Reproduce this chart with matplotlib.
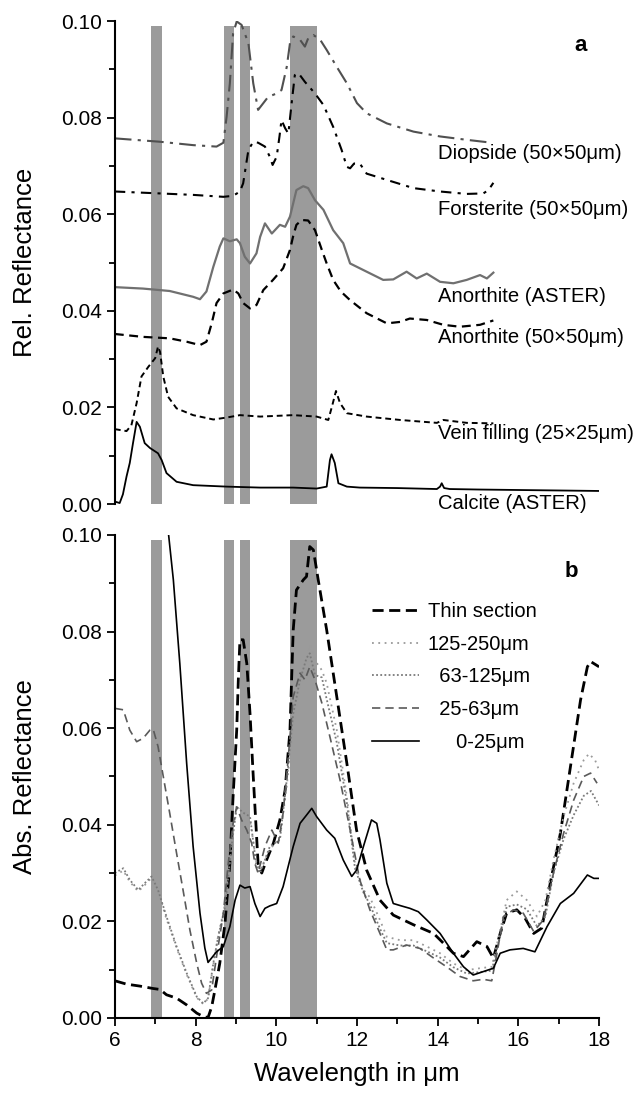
import matplotlib
matplotlib.use("Agg")
import matplotlib.pyplot as plt
from matplotlib.ticker import MultipleLocator, FormatStrFormatter

plt.rcParams['font.family'] = ['Liberation Sans', 'DejaVu Sans']

# ---- panel a: relative reflectance spectra ----
calcite_x = [6.0, 6.12, 6.2, 6.29, 6.37, 6.45, 6.54, 6.62, 6.74, 6.87, 7.07, 7.16, 7.28, 7.53, 7.94,
             8.77, 9.6, 10.42, 11.0, 11.25, 11.33, 11.37, 11.45, 11.54, 11.75, 12.07, 13.0, 13.98,
             14.06, 14.1, 14.16, 14.3, 15.0, 16.0, 17.0, 18.0]
calcite_y = [0.0005, 0.0002, 0.002, 0.0057, 0.0085, 0.0126, 0.017, 0.016, 0.0126, 0.0116, 0.0105,
             0.0091, 0.0064, 0.0046, 0.0039, 0.0036, 0.0034, 0.0034, 0.0032, 0.0036, 0.0091, 0.0103,
             0.0085, 0.0043, 0.0036, 0.0034, 0.0033, 0.0031, 0.0036, 0.0043, 0.0033, 0.0031, 0.003,
             0.0029, 0.0028, 0.0027]

vein_x = [6.0, 6.29, 6.41, 6.54, 6.66, 6.83, 7.0, 7.07, 7.12, 7.2, 7.32, 7.53, 7.94, 8.44, 8.77, 9.1,
          9.6, 10.42, 11.0, 11.29, 11.4, 11.48, 11.58, 11.75, 12.24, 13.07, 13.98, 14.14, 14.72, 15.38]
vein_y = [0.0155, 0.0151, 0.0163, 0.0209, 0.0264, 0.0284, 0.0302, 0.0326, 0.0315, 0.0264, 0.0222,
          0.0198, 0.0184, 0.0175, 0.0179, 0.0184, 0.0181, 0.0184, 0.0181, 0.0174, 0.0208, 0.0234,
          0.0209, 0.0188, 0.0181, 0.0174, 0.0168, 0.0174, 0.0168, 0.0167]

anor50_x = [6.0, 6.7, 7.36, 7.78, 8.11, 8.27, 8.4, 8.52, 8.69, 8.93, 9.06, 9.18, 9.35, 9.51, 9.68,
            9.92, 10.17, 10.34, 10.42, 10.5, 10.63, 10.79, 10.96, 11.13, 11.25, 11.41, 11.6, 11.83,
            12.24, 12.74, 13.07, 13.31, 13.73, 14.14, 14.55, 15.05, 15.38]
anor50_y = [0.0352, 0.0346, 0.0343, 0.0336, 0.0329, 0.0336, 0.0374, 0.0416, 0.0436, 0.0444, 0.0436,
            0.0416, 0.0405, 0.0412, 0.0443, 0.0464, 0.0488, 0.0526, 0.0555, 0.0578, 0.0588, 0.0587,
            0.0567, 0.0526, 0.0498, 0.0464, 0.044, 0.0422, 0.0395, 0.0374, 0.0377, 0.0384, 0.0381,
            0.0371, 0.0367, 0.0371, 0.038]

anorA_x = [6.0, 6.7, 7.36, 7.94, 8.11, 8.27, 8.44, 8.6, 8.69, 8.85, 9.02, 9.1, 9.22, 9.35, 9.51,
           9.6, 9.72, 9.89, 10.09, 10.22, 10.34, 10.5, 10.67, 10.79, 10.96, 11.17, 11.41, 11.66,
           11.83, 12.24, 12.65, 12.9, 13.23, 13.48, 13.73, 14.06, 14.39, 14.72, 15.05, 15.22, 15.38]
anorA_y = [0.0449, 0.0446, 0.0441, 0.0429, 0.0424, 0.044, 0.0491, 0.0533, 0.055, 0.0544, 0.0548,
           0.054, 0.0512, 0.0498, 0.0519, 0.0553, 0.0581, 0.056, 0.0578, 0.0574, 0.0595, 0.065,
           0.0658, 0.0654, 0.0629, 0.0609, 0.0567, 0.054, 0.0498, 0.0481, 0.0464, 0.0465, 0.0481,
           0.0467, 0.0477, 0.046, 0.0457, 0.0464, 0.0474, 0.0467, 0.0479]

forst_x = [6.0, 7.12, 7.94, 8.69, 8.93, 9.1, 9.18, 9.31, 9.43, 9.55, 9.72, 9.84, 9.91, 10.01, 10.08,
           10.13, 10.22, 10.3, 10.38, 10.46, 10.55, 10.71, 10.96, 11.17, 11.41, 11.62, 11.75, 11.83,
           11.93, 12.07, 12.24, 12.74, 13.4, 14.06, 14.72, 15.13, 15.26, 15.38]
forst_y = [0.0647, 0.0643, 0.064, 0.0636, 0.0638, 0.0647, 0.0664, 0.0733, 0.075, 0.0748, 0.074,
           0.0719, 0.0702, 0.0719, 0.0761, 0.0795, 0.0778, 0.0767, 0.0829, 0.0888, 0.0892, 0.0874,
           0.085, 0.0826, 0.0781, 0.0733, 0.0698, 0.0695, 0.0705, 0.0705, 0.0684, 0.0671, 0.0654,
           0.0647, 0.0642, 0.0643, 0.065, 0.0665]

diop_x = [6.0, 7.12, 7.94, 8.52, 8.69, 8.77, 8.85, 8.93, 9.02, 9.14, 9.31, 9.43, 9.55, 9.68, 9.8,
          10.01, 10.13, 10.26, 10.34, 10.42, 10.59, 10.71, 10.79, 10.92, 11.09, 11.25, 11.5, 11.75,
          12.0, 12.24, 12.74, 13.4, 14.06, 14.72, 15.34]
diop_y = [0.0757, 0.075, 0.0743, 0.074, 0.0748, 0.0802, 0.0871, 0.0974, 0.0999, 0.0992, 0.0954,
          0.0871, 0.0816, 0.083, 0.0843, 0.085, 0.0857, 0.0905, 0.0954, 0.0968, 0.0961, 0.0947,
          0.0964, 0.0971, 0.0961, 0.094, 0.0905, 0.0871, 0.083, 0.0809, 0.0788, 0.0771, 0.0761,
          0.0754, 0.0748]

labels_a = ["Diopside (50×50μm)", "Forsterite (50×50μm)", "Anorthite (ASTER)",
            "Anorthite (50×50μm)", "Vein filling (25×25μm)", "Calcite (ASTER)"]
labels_a_y = [0.0725, 0.0609, 0.0429, 0.0344, 0.0145, 0.0002]

# ---- panel b: absolute reflectance, grain size fractions ----
thin_x = [6.0, 6.29, 6.62, 6.95, 7.12, 7.28, 7.53, 7.78, 8.03, 8.19, 8.31, 8.4, 8.48, 8.6, 8.73,
          8.85, 8.93, 9.02, 9.06, 9.1, 9.18, 9.27, 9.35, 9.43, 9.55, 9.64, 9.76, 9.93, 10.09, 10.22,
          10.34, 10.42, 10.5, 10.67, 10.75, 10.83, 10.92, 11.04, 11.25, 11.5, 11.75, 11.99, 12.24,
          12.57, 12.9, 13.4, 13.9, 14.14, 14.39, 14.64, 14.97, 15.22, 15.38, 15.55, 15.71, 15.96,
          16.17, 16.38, 16.58, 16.79, 17.04, 17.29, 17.54, 17.71, 17.79, 18.0]
thin_y = [0.0077, 0.007, 0.0066, 0.0061, 0.0059, 0.0048, 0.0041, 0.0027, 0.001, 0.0003, 0.0001,
          0.0023, 0.0058, 0.0113, 0.0196, 0.032, 0.0458, 0.0596, 0.07, 0.0783, 0.0783, 0.0734,
          0.063, 0.050, 0.032, 0.030, 0.0327, 0.0362, 0.041, 0.0472, 0.0596, 0.0803, 0.0886,
          0.0907, 0.0914, 0.0976, 0.0969, 0.0907, 0.0803, 0.0665, 0.0527, 0.0389, 0.0306, 0.0244,
          0.0213, 0.0193, 0.0175, 0.0155, 0.0134, 0.0127, 0.0158, 0.0148, 0.0124, 0.0175, 0.0217,
          0.0224, 0.0206, 0.0175, 0.0186, 0.0279, 0.0382, 0.052, 0.0658, 0.0727, 0.0738, 0.0727]

g125_x = [6.0, 6.21, 6.37, 6.58, 6.74, 6.91, 7.07, 7.28, 7.53, 7.78, 8.03, 8.19, 8.31, 8.44, 8.56,
          8.73, 8.89, 9.02, 9.18, 9.35, 9.51, 9.6, 9.84, 10.09, 10.26, 10.42, 10.59, 10.75, 10.83,
          10.96, 11.13, 11.25, 11.5, 11.75, 11.95, 12.16, 12.32, 12.57, 12.74, 13.07, 13.4, 13.73,
          14.06, 14.39, 14.72, 15.05, 15.34, 15.55, 15.71, 15.96, 16.21, 16.46, 16.67, 16.87, 17.12,
          17.37, 17.62, 17.75, 17.9, 18.0]
g125_y = [0.0295, 0.0305, 0.0282, 0.0262, 0.0275, 0.029, 0.0262, 0.0205, 0.0145, 0.009, 0.0042,
          0.0029, 0.004, 0.011, 0.017, 0.0235, 0.036, 0.044, 0.043, 0.041, 0.032, 0.0305, 0.035,
          0.037, 0.048, 0.061, 0.069, 0.073, 0.0772, 0.074, 0.072, 0.0693, 0.0596, 0.0458, 0.032,
          0.0265, 0.025, 0.0203, 0.0168, 0.0161, 0.0161, 0.0148, 0.0134, 0.0113, 0.0099, 0.0103,
          0.0106, 0.0182, 0.0244, 0.0262, 0.0244, 0.021, 0.0244, 0.0327, 0.0417, 0.0486, 0.0534,
          0.0547, 0.0534, 0.0513]

g63_x = [6.0, 6.21, 6.37, 6.58, 6.74, 6.91, 7.07, 7.28, 7.53, 7.78, 8.03, 8.19, 8.31, 8.44, 8.56,
         8.73, 8.89, 9.02, 9.18, 9.35, 9.51, 9.6, 9.84, 10.09, 10.26, 10.42, 10.59, 10.75, 10.83,
         10.96, 11.13, 11.25, 11.5, 11.75, 11.95, 12.16, 12.32, 12.57, 12.74, 13.07, 13.4, 13.73,
         14.06, 14.39, 14.72, 15.05, 15.34, 15.55, 15.71, 15.96, 16.21, 16.46, 16.67, 16.87, 17.12,
         17.37, 17.62, 17.8, 18.0]
g63_y = [0.03, 0.031, 0.0286, 0.0265, 0.0279, 0.0293, 0.0265, 0.021, 0.0148, 0.0093, 0.0044,
         0.003, 0.0041, 0.0113, 0.0168, 0.023, 0.0355, 0.0437, 0.0425, 0.0417, 0.0313, 0.03,
         0.0355, 0.0369, 0.0493, 0.063, 0.070, 0.0745, 0.0755, 0.071, 0.0705, 0.066, 0.057, 0.0445,
         0.031, 0.026, 0.0235, 0.0185, 0.0155, 0.015, 0.015, 0.0138, 0.0125, 0.0105, 0.0092,
         0.0095, 0.0098, 0.017, 0.023, 0.0235, 0.0225, 0.019, 0.021, 0.03, 0.037, 0.042, 0.046,
         0.047, 0.044]

g25_x = [6.0, 6.21, 6.37, 6.54, 6.7, 6.87, 6.95, 7.07, 7.2, 7.36, 7.53, 7.69, 7.86, 8.03, 8.15,
         8.27, 8.4, 8.52, 8.69, 8.81, 8.93, 9.02, 9.14, 9.27, 9.39, 9.47, 9.55, 9.72, 9.89, 10.05,
         10.17, 10.3, 10.42, 10.59, 10.71, 10.83, 10.96, 11.13, 11.33, 11.58, 11.83, 12.07, 12.32,
         12.57, 12.74, 12.9, 13.23, 13.56, 13.9, 14.22, 14.55, 14.88, 15.13, 15.34, 15.47, 15.63,
         15.88, 16.12, 16.38, 16.62, 16.87, 17.12, 17.37, 17.62, 17.79, 17.95]
g25_y = [0.0641, 0.0638, 0.0596, 0.0572, 0.0579, 0.0596, 0.0598, 0.0562, 0.05, 0.0424, 0.0341,
         0.0265, 0.0182, 0.0113, 0.0072, 0.0051, 0.0058, 0.0127, 0.0217, 0.032, 0.0403, 0.0437,
         0.041, 0.0389, 0.0362, 0.032, 0.03, 0.0355, 0.0389, 0.0362, 0.0424, 0.0541, 0.0665,
         0.0714, 0.07, 0.0727, 0.07, 0.0652, 0.0582, 0.0493, 0.0389, 0.0286, 0.0224, 0.0175,
         0.0141, 0.0141, 0.0151, 0.0144, 0.0124, 0.0106, 0.0086, 0.0077, 0.008, 0.0077, 0.0134,
         0.021, 0.0224, 0.0217, 0.0179, 0.0203, 0.03, 0.0382, 0.0451, 0.05, 0.0507, 0.0486]

g0_x = [7.15, 7.32, 7.45, 7.61, 7.78, 7.94, 8.11, 8.23, 8.31, 8.52, 8.69, 8.85, 8.98, 9.1, 9.22,
        9.35, 9.47, 9.6, 9.72, 9.84, 10.01, 10.17, 10.42, 10.59, 10.75, 10.88, 11.0, 11.25, 11.45,
        11.66, 11.87, 11.99, 12.16, 12.36, 12.49, 12.57, 12.74, 12.9, 13.1, 13.31, 13.52, 13.73,
        14.06, 14.39, 14.64, 14.88, 15.13, 15.38, 15.55, 15.79, 16.12, 16.41, 16.71, 17.04, 17.37,
        17.71, 17.87, 18.0]
g0_y = [0.115, 0.101, 0.0907, 0.0734, 0.0527, 0.0355, 0.0217, 0.0145, 0.0115, 0.0137, 0.0148,
        0.0189, 0.0244, 0.0275, 0.0269, 0.0272, 0.0237, 0.021, 0.0227, 0.0232, 0.0237, 0.0272,
        0.0355, 0.0403, 0.042, 0.0434, 0.0417, 0.0389, 0.0372, 0.0327, 0.0293, 0.0306, 0.0355,
        0.041, 0.0403, 0.0369, 0.0279, 0.0237, 0.0232, 0.0227, 0.022, 0.0203, 0.0175, 0.0134,
        0.0106, 0.0089, 0.0096, 0.0103, 0.0134, 0.0141, 0.0144, 0.0137, 0.0189, 0.0237, 0.0258,
        0.0296, 0.0289, 0.0289]

legend_b = ["Thin section", "125-250μm", "  63-125μm", "  25-63μm", "     0-25μm"]

# absorption bands shaded in both panels
bands = [(6.9, 7.16), (8.7, 8.95), (9.09, 9.35), (10.34, 11.0)]

fig = plt.figure(figsize=(6.38, 10.94), dpi=100)
ax1 = fig.add_axes([0.180, 0.5393, 0.759, 0.4415])
ax2 = fig.add_axes([0.180, 0.0695, 0.759, 0.4415])

for ax in (ax1, ax2):
    for x0, x1 in bands:
        ax.axvspan(x0, x1, ymin=0, ymax=0.99, color='#9b9b9b', lw=0, zorder=0)
    ax.set_xlim(6, 18)
    ax.set_ylim(0, 0.1)
    ax.spines['top'].set_visible(False)
    ax.spines['right'].set_visible(False)
    ax.spines['left'].set_linewidth(1.5)
    ax.spines['bottom'].set_linewidth(1.5)
    ax.yaxis.set_major_locator(MultipleLocator(0.02))
    ax.yaxis.set_minor_locator(MultipleLocator(0.01))
    ax.yaxis.set_major_formatter(FormatStrFormatter('%.2f'))
    ax.xaxis.set_major_locator(MultipleLocator(2))
    ax.xaxis.set_minor_locator(MultipleLocator(1))
    ax.tick_params(which='major', length=6, width=1.3, labelsize=15, direction='out')
    ax.tick_params(which='minor', length=4, width=1.3, direction='out')

ax1.spines['bottom'].set_visible(False)
ax1.tick_params(axis='x', which='both', bottom=False, labelbottom=False)

# panel a curves
ax1.plot(calcite_x, calcite_y, color='black', lw=1.3)
ax1.plot(vein_x, vein_y, color='black', lw=1.4, ls=(0, (3, 2)))
ax1.plot(anor50_x, anor50_y, color='black', lw=1.6, ls=(0, (4, 2.5)))
ax1.plot(anorA_x, anorA_y, color='#707070', lw=1.6)
ax1.plot(forst_x, forst_y, color='black', lw=1.5, ls=(0, (5, 3, 1.5, 3)))
ax1.plot(diop_x, diop_y, color='#505050', lw=1.5, ls=(0, (8, 3, 1.5, 3)))

for lab, ly in zip(labels_a, labels_a_y):
    ax1.text(14.0, ly, lab, fontsize=14.6, va='center', ha='left', clip_on=False)
ax1.text(17.55, 0.095, 'a', fontsize=16, fontweight='bold', ha='center', va='center')
ax1.set_ylabel('Rel. Reflectance', fontsize=18.5)
ax1.yaxis.set_label_coords(-0.16, 0.5)

# panel b curves
h_thin, = ax2.plot(thin_x, thin_y, color='black', lw=2.0, ls=(0, (4, 2)))
h125, = ax2.plot(g125_x, g125_y, color='#9a9a9a', lw=1.3, ls=(0, (1, 2.5)))
h63, = ax2.plot(g63_x, g63_y, color='#7a7a7a', lw=1.3, ls=(0, (1, 1.3)))
h25, = ax2.plot(g25_x, g25_y, color='#5a5a5a', lw=1.2, ls=(0, (5, 3)))
h0, = ax2.plot(g0_x, g0_y, color='black', lw=1.2)

ax2.legend([h_thin, h125, h63, h25, h0], legend_b, loc='upper left',
           bbox_to_anchor=(0.532, 0.861), frameon=False, fontsize=14.5,
           borderpad=0, borderaxespad=0, handlelength=2.3, handletextpad=0.45,
           labelspacing=0.68)
ax2.text(17.32, 0.0924, 'b', fontsize=16, fontweight='bold', ha='center', va='center')
ax2.set_ylabel('Abs. Reflectance', fontsize=18.5)
ax2.yaxis.set_label_coords(-0.16, 0.5)
ax2.set_xlabel('Wavelength in μm', fontsize=18.5)
ax2.xaxis.set_label_coords(0.5, -0.092)

fig.savefig('out.png', dpi=100)
